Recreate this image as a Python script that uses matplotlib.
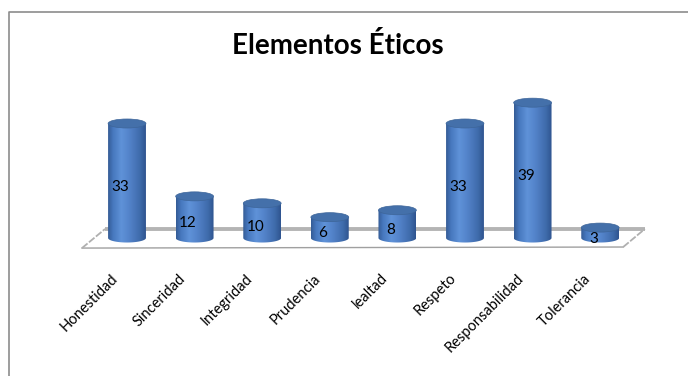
import numpy as np
import matplotlib
matplotlib.use('Agg')
import matplotlib.pyplot as plt
from matplotlib.patches import Ellipse, Polygon, PathPatch
from matplotlib.path import Path
from matplotlib.colors import LinearSegmentedColormap
from matplotlib.lines import Line2D

# datos del grafico
categorias = ['Honestidad', 'Sinceridad', 'Integridad', 'Prudencia',
              'lealtad', 'Respeto', 'Responsabilidad', 'Tolerancia']
valores = [33, 12, 10, 6, 8, 33, 39, 3]
titulo = 'Elementos Éticos'

plt.rcParams['font.family'] = ['Lato', 'DejaVu Sans']

fig = plt.figure(figsize=(6.88, 3.76), dpi=100)
ax = fig.add_axes([0, 0, 1, 1])
ax.set_xlim(-1.879, 8.299)
ax.set_ylim(-39.77, 68.59)
ax.axis('off')

# borde del area del grafico
bx = 9 / 688
by = 1 - 12 / 376
fig.add_artist(Line2D([bx, bx, 1], [0, by, by], transform=fig.transFigure,
                      color='#8c8c8c', lw=1.2))

# piso en perspectiva
piso = Polygon([(-0.666, -2.9), (-0.325, 2.6), (7.66, 2.6), (7.34, -2.6)],
               closed=True, facecolor='white', edgecolor='none', zorder=1)
ax.add_patch(piso)
ax.plot([-0.325, 7.66], [2.6, 2.6], color='#b4b4b4', lw=2.8, zorder=1.5,
        solid_capstyle='butt')
ax.plot([-0.666, 7.34], [-2.9, -2.6], color='#a0a0a0', lw=1.0, zorder=1.5)
ax.plot([-0.666, -0.325], [-2.9, 2.6], color='#b0b0b0', lw=1.3, zorder=1.5,
        linestyle=(0, (4, 1)))
ax.plot([7.34, 7.66], [-2.6, 2.6], color='#b0b0b0', lw=1.3, zorder=1.5,
        linestyle=(0, (4, 1)))

# cilindros
ancho = 0.56
alto_elipse = 2.6
cmap = LinearSegmentedColormap.from_list('cil', [
    (0.0, '#355c96'), (0.12, '#4677bd'), (0.35, '#5f92d8'),
    (0.55, '#5484cb'), (0.85, '#3f6bab'), (1.0, '#2f5590')])
grad = np.linspace(0, 1, 64).reshape(1, -1)

for i, v in enumerate(valores):
    x0 = i - ancho / 2
    x1 = i + ancho / 2
    t = np.linspace(np.pi, 2 * np.pi, 40)
    arco = np.column_stack([i + ancho / 2 * np.cos(t),
                            alto_elipse / 2 * np.sin(t)])
    verts = [(x0, v)] + list(map(tuple, arco)) + [(x1, v), (x0, v)]
    cuerpo = PathPatch(Path(verts), facecolor='none', edgecolor='none')
    ax.add_patch(cuerpo)
    im = ax.imshow(grad, cmap=cmap, aspect='auto', zorder=3,
                   extent=(x0, x1, -alto_elipse, v), interpolation='bilinear')
    im.set_clip_path(cuerpo)
    tapa = Ellipse((i, v), ancho, alto_elipse, facecolor='#4470aa',
                   edgecolor='#3d6599', lw=0.5, zorder=4)
    ax.add_patch(tapa)
    ax.text(i - 0.1, v / 2 - 1.7, str(v), ha='center', va='center',
            fontsize=11, color='black', zorder=5)

# etiquetas de categoria
for i, c in enumerate(categorias):
    ax.text(i - 0.17, -11.0, c, rotation=45, ha='right', va='center',
            rotation_mode='anchor', fontsize=10.5, color='black')

fig.text(338 / 688, 1 - 46 / 376, titulo, ha='center', va='center',
         fontsize=20, fontweight='bold', color='black')

fig.savefig('out.png', dpi=100)
